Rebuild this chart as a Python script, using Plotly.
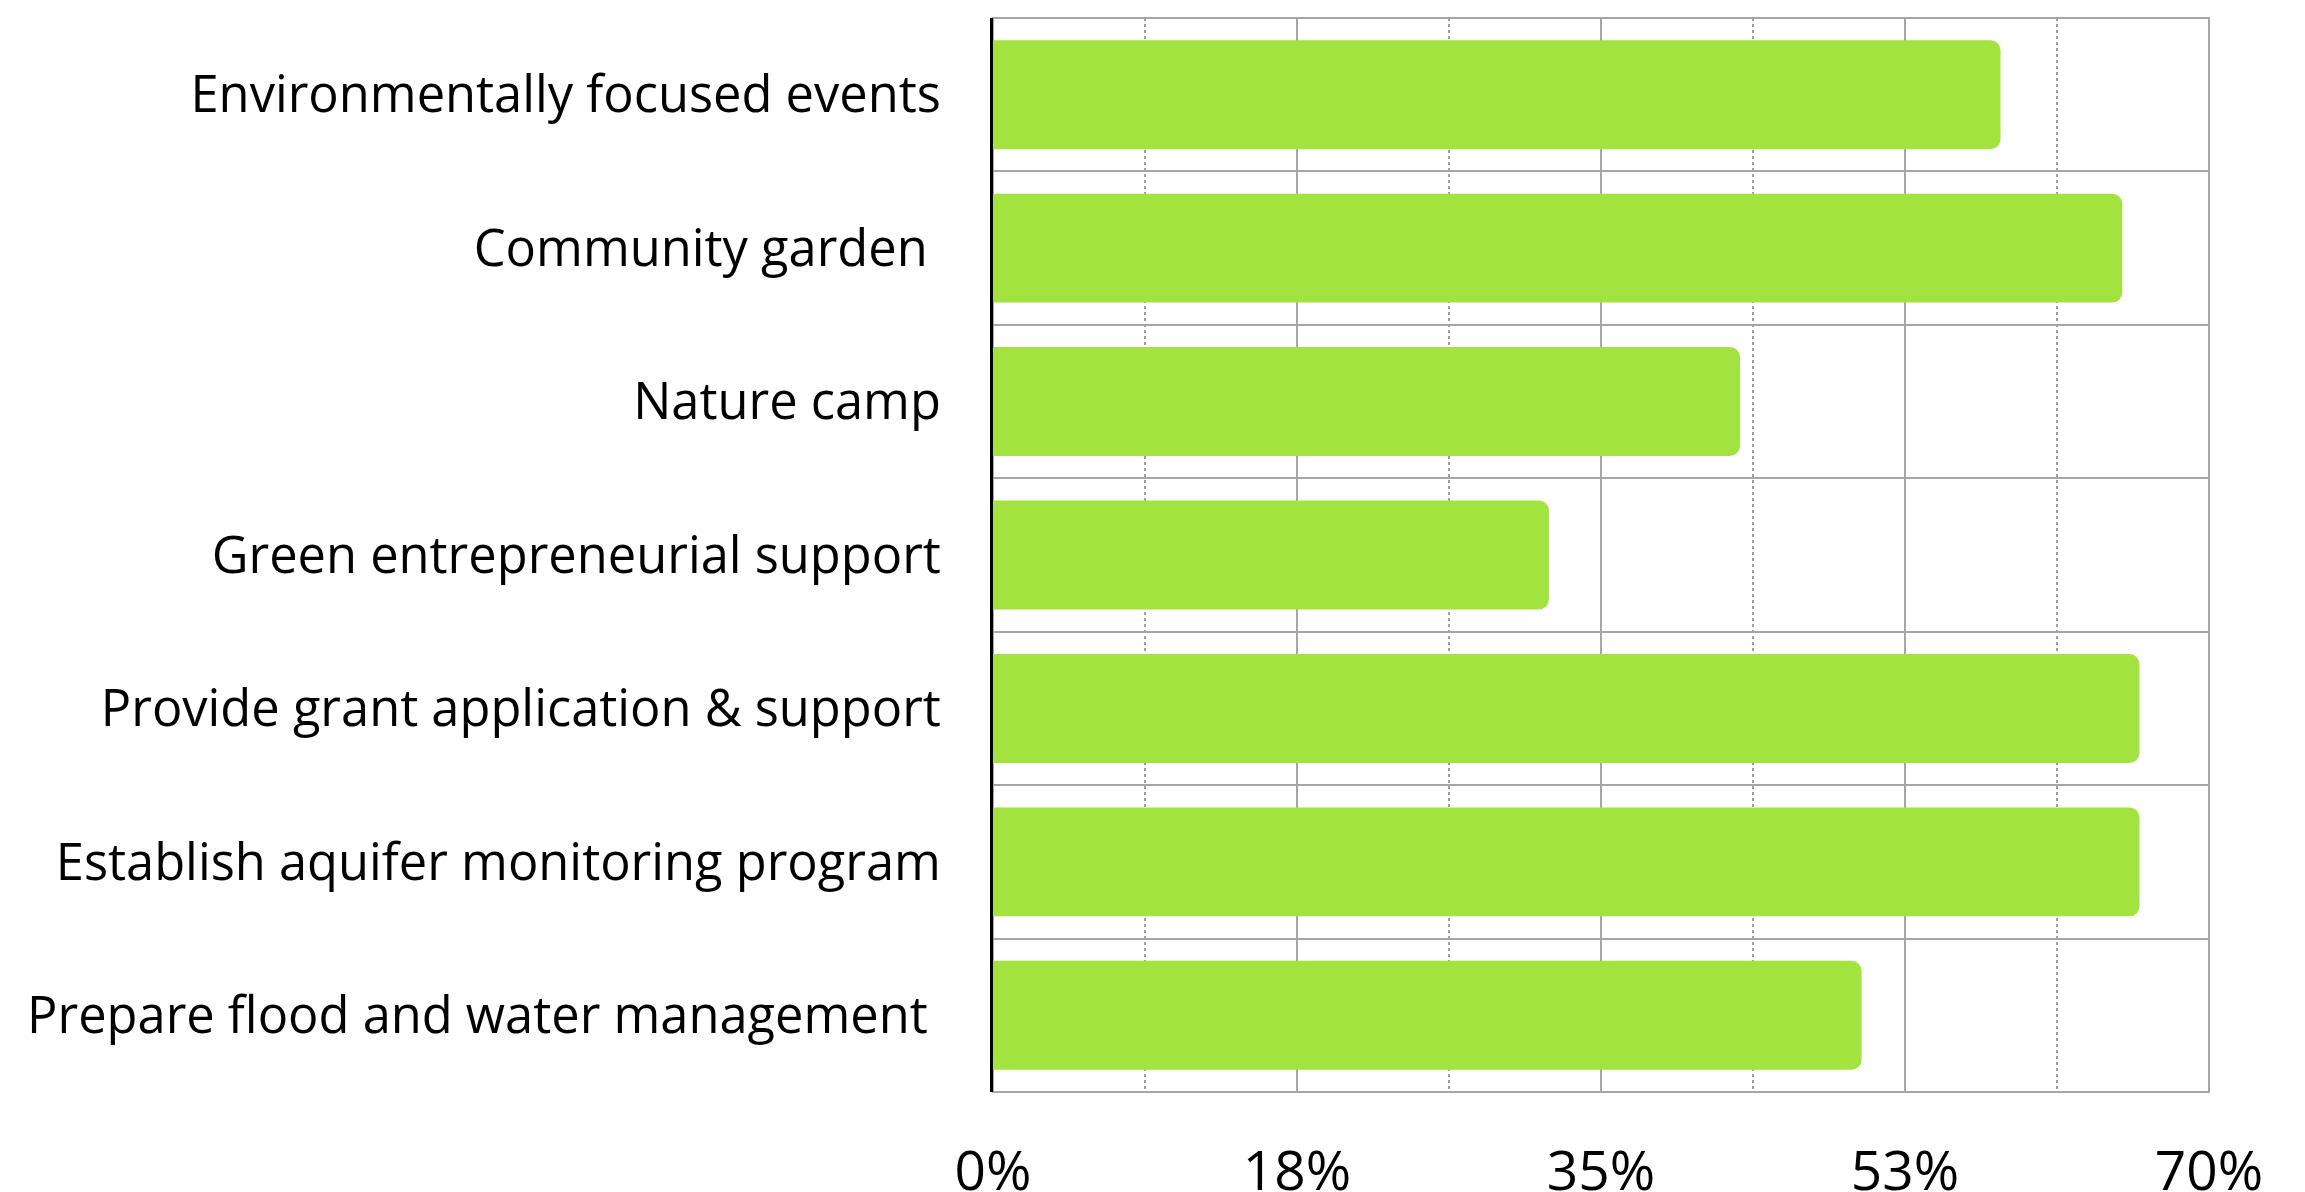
import plotly.graph_objects as go

categories = [
    "Environmentally focused events",
    "Community garden ",
    "Nature camp",
    "Green entrepreneurial support",
    "Provide grant application & support",
    "Establish aquifer monitoring program",
    "Prepare flood and water management ",
]
values = [58, 65, 43, 32, 66, 66, 50]
tick_vals = [0, 17.5, 35, 52.5, 70]
tick_text = ["0%", "18%", "35%", "53%", "70%"]

fig = go.Figure(
    go.Bar(
        x=values,
        y=categories,
        orientation="h",
        marker=dict(color="#a2e33f", cornerradius=10, line=dict(width=0)),
        hoverinfo="x+y",
    )
)

fig.update_layout(
    width=2305,
    height=1192,
    margin=dict(l=993, r=96, t=18, b=100, autoexpand=False),
    paper_bgcolor="white",
    plot_bgcolor="white",
    bargap=0.29,
    showlegend=False,
    font=dict(family="Open Sans", color="#000000"),
    shapes=[
        dict(
            type="rect", xref="paper", yref="paper", x0=0, x1=1, y0=0, y1=1,
            line=dict(color="#a6a6a6", width=2), layer="below",
        )
    ],
)

fig.update_xaxes(
    range=[0, 70],
    tickvals=tick_vals,
    ticktext=tick_text,
    tickfont=dict(size=55, family="Open Sans", color="#000000"),
    showgrid=True,
    gridcolor="#a6a6a6",
    gridwidth=2,
    zeroline=False,
    showline=False,
    ticks="",
    ticklabelstandoff=42,
    minor=dict(
        tickvals=[8.75, 26.25, 43.75, 61.25],
        showgrid=True,
        gridcolor="#a0a0a0",
        gridwidth=2,
        griddash="dot",
    ),
    fixedrange=True,
)

fig.update_yaxes(
    categoryorder="array",
    categoryarray=categories,
    autorange="reversed",
    tickson="boundaries",
    showgrid=True,
    gridcolor="#a6a6a6",
    gridwidth=2,
    ticks="",
    tickfont=dict(size=50.6, family="Open Sans", color="#000000"),
    ticklabelstandoff=39,
    showline=True,
    linecolor="#000000",
    linewidth=3,
    zeroline=False,
    fixedrange=True,
)

fig.write_html(
    "out.html",
    config={"displayModeBar": False},
    post_script="document.body.style.margin='0';document.body.style.overflow='hidden';",
)
